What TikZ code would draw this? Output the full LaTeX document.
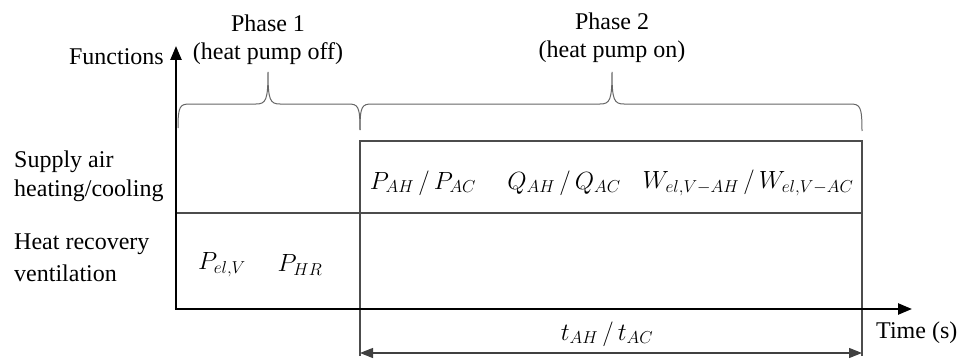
\documentclass[tikz,border=0pt]{standalone}
\usepackage{fontspec}
\setmainfont{Liberation Serif}
\usetikzlibrary{arrows.meta}
\begin{document}
\begin{tikzpicture}[x=1pt,y=-1pt,
  txt/.style={font=\fontsize{24}{28}\selectfont, inner sep=0pt},
  mth/.style={font=\fontsize{25}{28}\selectfont, inner sep=0pt},
  axis/.style={line width=2.4pt, -{Triangle[length=14pt,width=11pt]}},
  thin/.style={line width=1.1pt, draw=black!70},
  brace/.style={line width=1pt, draw=black!60},
  dim/.style={line width=1.1pt, draw=black!75, {Triangle[length=13pt,width=10pt]}-{Triangle[length=13pt,width=10pt]}}]
\useasboundingbox (0,0) rectangle (959,361);
% coordinates
\coordinate (O) at (176,309);
\coordinate (Ytip) at (176,46);
\coordinate (Xtip) at (912,309);
\coordinate (midL) at (176,213);
\coordinate (midR) at (862,213);
\coordinate (boxTL) at (360,141);
\coordinate (boxTR) at (862,141);
\coordinate (boxBL) at (360,356);
\coordinate (boxBR) at (862,356);
\coordinate (dimL) at (360,353);
\coordinate (dimR) at (862,353);
% thin grid lines
\draw[thin] (midL) -- (midR);
\draw[thin] (boxBL) -- (boxTL) -- (boxTR) -- (boxBR);
% axes
\draw[axis] (O) -- (Ytip);
\draw[axis] ([xshift=-1.2pt]O) -- (Xtip);
% dimension arrow
\draw[dim] (dimL) -- (dimR);
% braces
\draw[brace] (178,128) .. controls (178,106) and (180,104) .. (190,104) -- (256,104)
   .. controls (266,104) and (268,100) .. (268,72)
   .. controls (268,100) and (270,104) .. (280,104) -- (348,104)
   .. controls (358,104) and (360,106) .. (360,130);
\draw[brace] (360,130) .. controls (360,106) and (362,104) .. (372,104) -- (600,104)
   .. controls (610,104) and (612,100) .. (612,72)
   .. controls (612,100) and (614,104) .. (624,104) -- (850,104)
   .. controls (860,104) and (862,106) .. (862,131);
% texts
\node[txt] (ph1) at (268,23) {Phase 1};
\node[txt] (ph1b) at (268,54) {(heat pump off)};
\node[txt] (ph2) at (612,21) {Phase 2};
\node[txt] (ph2b) at (612,52) {(heat pump on)};
\node[txt, anchor=east] (fun) at (164,57) {Functions};
\node[txt, anchor=west] (sa1) at (14,162) {Supply air};
\node[txt, anchor=west] (sa2) at (14,191) {heating/cooling};
\node[txt, anchor=west] (hr1) at (14,244) {Heat recovery};
\node[txt, anchor=west] (hr2) at (14,273) {ventilation};
\node[txt, anchor=west] (time) at (876,333) {Time (s)};
\node[mth] (pel) at (222,265) {$P_{el,V}$};
\node[mth] (phr) at (300,265) {$P_{HR}$};
\node[mth] (pah) at (423,183) {$P_{AH}\,/\,P_{AC}$};
\node[mth] (qah) at (564,183) {$Q_{AH}\,/\,Q_{AC}$};
\node[mth] (wel) at (748,183) {$W_{el,V-AH}\,/\,W_{el,V-AC}$};
\node[mth] (tah) at (607,334) {$t_{AH}\,/\,t_{AC}$};
\end{tikzpicture}
\end{document}
